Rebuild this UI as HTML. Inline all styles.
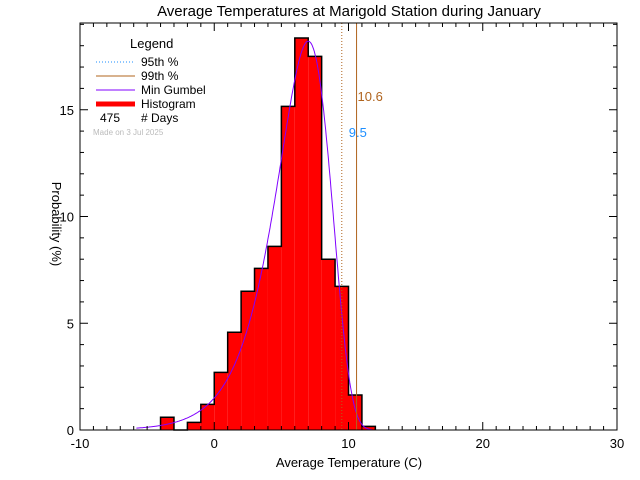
<!DOCTYPE html>
<html><head><meta charset="utf-8"><style>
body{margin:0;background:#fff;}
svg{display:block;font-family:"Liberation Sans",sans-serif;}
</style></head><body>
<svg id="chart" width="640" height="480" viewBox="0 0 640 480">
<rect width="640" height="480" fill="#fff"/>
<text x="349" y="16" font-size="15" text-anchor="middle">Average Temperatures at Marigold Station during January</text>
<g id="bars"></g>
<g id="curve"></g>
<g id="pct"></g>
<g id="axes"></g>
<text x="349" y="467" font-size="13" text-anchor="middle">Average Temperature (C)</text>
<text transform="translate(52,224) rotate(90)" font-size="13" text-anchor="middle">Probability (%)</text>
<g>
<text x="130" y="48" font-size="13">Legend</text>
<line x1="96" y1="62" x2="135" y2="62" stroke="#1e8fff" stroke-dasharray="1,2"/>
<text x="141" y="66" font-size="12">95th %</text>
<line x1="96" y1="76" x2="135" y2="76" stroke="#b0641e"/>
<text x="141" y="80" font-size="12">99th %</text>
<line x1="96" y1="90" x2="135" y2="90" stroke="#8000ff"/>
<text x="141" y="94" font-size="12">Min Gumbel</text>
<line x1="96" y1="104" x2="135" y2="104" stroke="#f00" stroke-width="5"/>
<text x="141" y="108" font-size="12">Histogram</text>
<text x="100" y="122" font-size="12">475</text>
<text x="141" y="122" font-size="12"># Days</text>
<text x="93" y="135" font-size="8" fill="#bbb">Made on 3 Jul 2025</text>
</g>
</svg>
<script>
const binStarts=[-4,-3,-2,-1,0,1,2,3,4,5,6,7,8,9,10,11];
const binValues=[0.6,0,0.36,1.2,2.7,4.58,6.5,7.57,8.6,15.16,18.36,17.5,8.0,6.73,1.64,0.17];
const gumbelParams=[7.0,2.02];
const percentiles=[9.5,10.6];
const percentileLabels=["9.5","10.6"];
const xTicks=[-10,0,10,20,30];
const yTicks=[0,5,10,15];
const L=80,R=617,T=23,B=430,XMIN=-10,XMAX=30,YMAX=(B-T)/21.35;
const sx=v=>L+(v-XMIN)/(XMAX-XMIN)*(R-L);
const sy=v=>B-v/YMAX*(B-T);
const NS="http://www.w3.org/2000/svg";
function mk(tag,parent,attrs){const e=document.createElementNS(NS,tag);for(const k in attrs)e.setAttribute(k,attrs[k]);parent.appendChild(e);return e;}
const gb=document.getElementById('bars');
let path="M"+sx(binStarts[0])+","+sy(0);
binStarts.forEach((b,i)=>{
 if(binValues[i]>0){
 const r=mk('rect',gb,{x:sx(b),y:sy(binValues[i]),width:sx(b+1)-sx(b),height:sy(0)-sy(binValues[i]),fill:'#f00'});
 
 }
 path+=" L"+sx(b)+","+sy(binValues[i])+" L"+sx(b+1)+","+sy(binValues[i]);
});
path+=" L"+sx(binStarts[binStarts.length-1]+1)+","+sy(0);
const outline=mk('path',gb,{d:path,fill:'none',stroke:'#000','stroke-width':1.5});


const gc=document.getElementById('curve');
const mu=gumbelParams[0],beta=gumbelParams[1];
let cd="";
for(let x=-5.8;x<=11.8;x+=0.05){const z=(x-mu)/beta;const f=100/beta*Math.exp(z-Math.exp(z));cd+=(cd?" L":"M")+sx(x).toFixed(1)+","+sy(f).toFixed(1);}
const cp=mk('path',gc,{d:cd,fill:'none',stroke:'#8000ff','stroke-width':1});


const gp=document.getElementById('pct');
const l95=mk('line',gp,{x1:sx(percentiles[0]),x2:sx(percentiles[0]),y1:T,y2:B,stroke:'#b0641e','stroke-dasharray':'1,2'});


const l99=mk('line',gp,{x1:sx(percentiles[1]),x2:sx(percentiles[1]),y1:T,y2:B,stroke:'#b0641e'});


const t95=mk('text',gp,{x:sx(percentiles[0])+7,y:137,'font-size':13,fill:'#1e8fff'});t95.textContent=percentileLabels[0];


const t99=mk('text',gp,{x:sx(percentiles[1])+1,y:101,'font-size':13,fill:'#b0641e'});t99.textContent=percentileLabels[1];


const ga=document.getElementById('axes');
const box=mk('rect',ga,{x:L,y:T,width:R-L,height:B-T,fill:'none',stroke:'#000'});


for(let v=XMIN;v<=XMAX;v++){const maj=xTicks.includes(v);const len=maj?8:4;
 mk('line',ga,{x1:sx(v),x2:sx(v),y1:B,y2:B-len,stroke:'#000'});mk('line',ga,{x1:sx(v),x2:sx(v),y1:T,y2:T+len,stroke:'#000'});}
xTicks.forEach(v=>{const t=mk('text',ga,{x:sx(v),y:B+18,'font-size':13,'text-anchor':'middle'});t.textContent=v;
 
 });
for(let v=0;v<YMAX;v++){const maj=yTicks.includes(v);const len=maj?8:4;
 mk('line',ga,{x1:L,x2:L+len,y1:sy(v),y2:sy(v),stroke:'#000'});mk('line',ga,{x1:R,x2:R-len,y1:sy(v),y2:sy(v),stroke:'#000'});}
yTicks.forEach(v=>{const t=mk('text',ga,{x:L-6,y:sy(v)+5,'font-size':13,'text-anchor':'end'});t.textContent=v;
 
 });
</script>
</body></html>
